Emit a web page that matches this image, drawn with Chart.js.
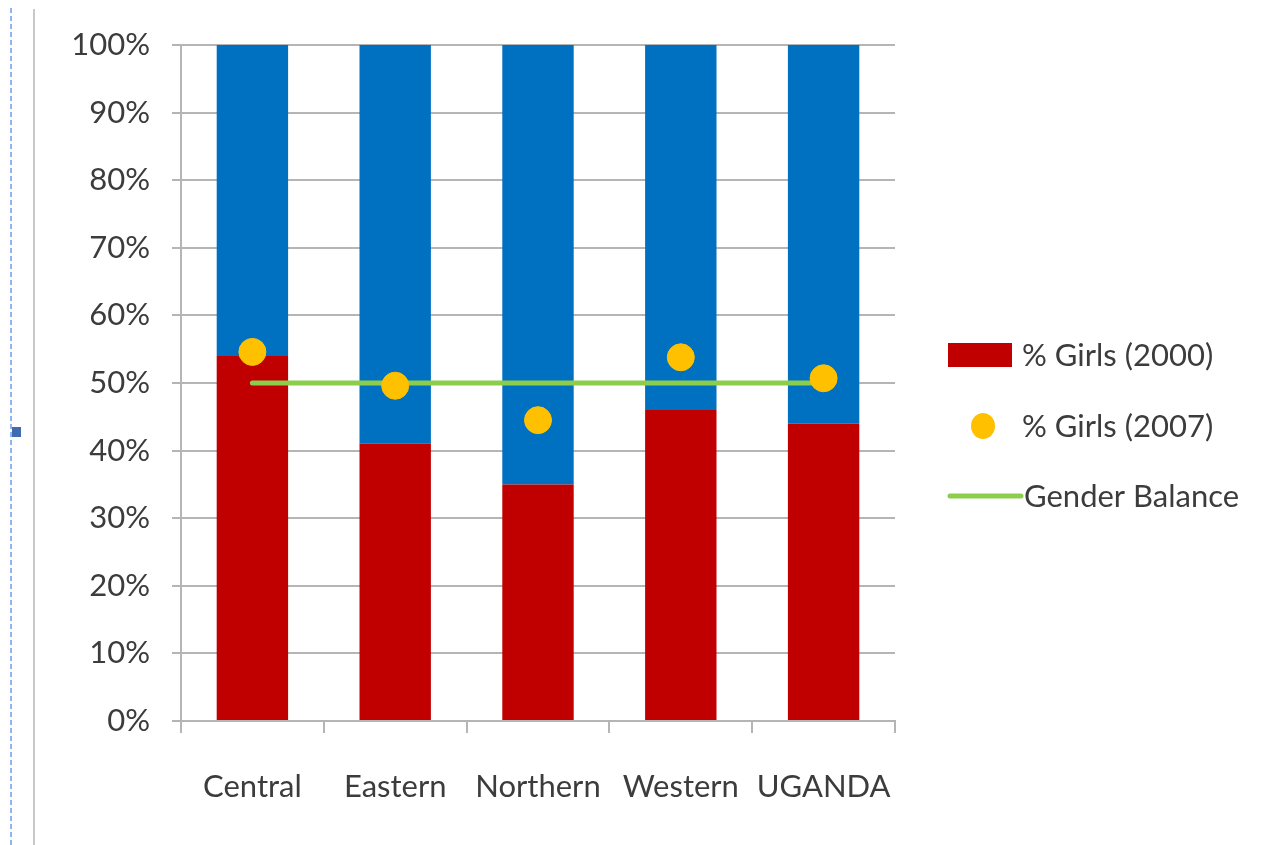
<!DOCTYPE html>
<html><head><meta charset="utf-8">
<script src="https://cdn.jsdelivr.net/npm/chart.js@4.4.1/dist/chart.umd.min.js"></script>
<style>
html,body{margin:0;padding:0;background:#fff;width:1264px;height:845px;overflow:hidden;}
#wrap{position:absolute;left:0;top:0;width:1264px;height:845px;}
.dash{position:absolute;left:10px;top:8px;width:2px;height:837px;background:repeating-linear-gradient(to bottom,#8fb4f0 0 5px,transparent 5px 8px);}
.sq{position:absolute;left:12px;top:427px;width:9px;height:10px;background:#3f6cae;}
.gl{position:absolute;left:33px;top:9px;width:2px;height:836px;background:#c9c9c9;}
</style></head>
<body>
<div class="dash"></div><div class="sq"></div><div class="gl"></div>
<div id="wrap"><canvas id="c" width="1264" height="845"></canvas></div>
<script>
const categories = ['Central','Eastern','Northern','Western','UGANDA'];
const girls2000 = [54, 41, 35, 46, 44];
const remainder2000 = [46, 59, 65, 54, 56];
const girls2007 = [54.6, 49.6, 44.5, 53.8, 50.7];
const genderBalance = [50, 50, 50, 50, 50];
const yTicks = [0,10,20,30,40,50,60,70,80,90,100];

const FONT = 'Lato, "Open Sans", sans-serif';
const TXT = '#3c3c3c';
const FS = 31;

const legendPlugin = {
  id: 'customLegend',
  afterDraw(chart) {
    const ctx = chart.ctx;
    ctx.save();
    ctx.font = FS + 'px ' + FONT;
    ctx.textBaseline = 'middle';
    ctx.textAlign = 'left';
    ctx.fillStyle = '#c00000';
    ctx.fillRect(948, 343, 64, 24);
    ctx.fillStyle = TXT;
    ctx.fillText('% Girls (2000)', 1022, 356);
    ctx.fillStyle = '#ffc000';
    ctx.beginPath(); ctx.ellipse(983, 426, 12, 13, 0, 0, Math.PI*2); ctx.fill();
    ctx.fillStyle = TXT;
    ctx.fillText('% Girls (2007)', 1022, 427);
    ctx.strokeStyle = '#8cce4c';
    ctx.lineWidth = 5; ctx.lineCap = 'round';
    ctx.beginPath(); ctx.moveTo(950, 496); ctx.lineTo(1021, 496); ctx.stroke();
    ctx.fillText('Gender Balance', 1024, 497);
    ctx.restore();
  }
};

new Chart(document.getElementById('c'), {
  data: {
    labels: categories,
    datasets: [
      { type:'scatter', label:'% Girls (2007)', data: girls2007, backgroundColor:'#ffc000', borderColor:'#ffc000',
        pointRadius:13.5, pointHoverRadius:13.5, showLine:false, stack:'pts', order:0 },
      { type:'line', label:'Gender Balance', data: genderBalance, borderColor:'#8cce4c', borderWidth:5,
        pointRadius:0, fill:false, stack:'bal', order:1, borderCapStyle:'round' },
      { type:'bar', label:'% Girls (2000)', data: girls2000, backgroundColor:'#c00000', stack:'bars',
        barPercentage:0.5, categoryPercentage:1.0, order:2 },
      { type:'bar', label:'% Boys (2000)', data: remainder2000, backgroundColor:'#0070c0', stack:'bars',
        barPercentage:0.5, categoryPercentage:1.0, order:3 }
    ]
  },
  options: {
    responsive:false, animation:false,
    layout:{ padding:{ left:40, right:369, top:45, bottom:20 } },
    plugins:{ legend:{display:false}, tooltip:{enabled:false} },
    scales:{
      x:{ type:'category', stacked:true, offset:true,
          grid:{ display:true, drawOnChartArea:false, drawTicks:true, tickLength:12, color:'#b5b5b5', lineWidth:2, offset:true },
          border:{ display:true, color:'#b5b5b5', width:2 },
          ticks:{ font:{ family:FONT, size:FS }, color:TXT, padding:35 },
          afterFit(s){ s.height = 104; } },
      y:{ stacked:true, min:0, max:100,
          afterBuildTicks(s){ s.ticks = yTicks.map(v=>({value:v})); },
          grid:{ color:'#b5b5b5', lineWidth:2, tickLength:9 },
          border:{ display:true, color:'#b5b5b5', width:2 },
          ticks:{ font:{ family:FONT, size:FS }, color:TXT, padding:22, callback:v=>v+'%' },
          afterFit(s){ s.width = 141; } }
    }
  },
  plugins:[legendPlugin]
});
</script>
</body></html>
